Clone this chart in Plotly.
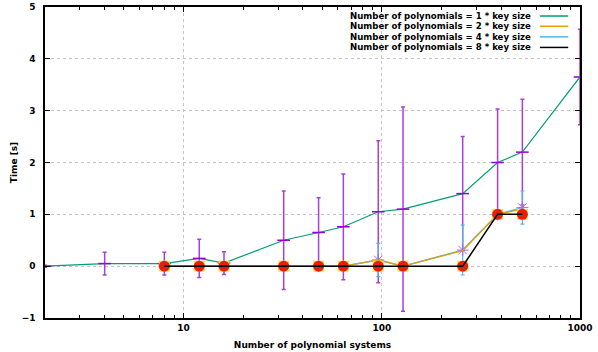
import plotly.graph_objects as go

# Number of polynomial systems (x) for each configuration
x_k1 = [2, 4, 8, 12, 16, 32, 48, 64, 96, 128, 256, 384, 512, 1000]
t_k1 = [0.0, 0.05, 0.05, 0.15, 0.06, 0.5, 0.65, 0.76, 1.05, 1.1, 1.4, 2.0, 2.2, 3.65]
e_k1 = [0.02, 0.22, 0.22, 0.37, 0.22, 0.95, 0.67, 1.02, 1.37, 1.97, 1.1, 1.03, 1.02, 0.92]

x_k2 = [8, 12, 16, 32, 48, 64, 96, 128, 256, 384, 512]
t_k2 = [0, 0, 0, 0, 0, 0, 0.12, 0, 0.3, 1.0, 1.1]

x_k4 = [8, 12, 16, 32, 48, 64, 96, 128, 256, 384, 512]
t_k4 = [0, 0, 0, 0, 0, 0, 0.12, 0, 0.31, 1.0, 1.13]
e_k4 = [0, 0, 0, 0, 0, 0, 0.32, 0, 0.48, 0, 0.32]

x_k8 = [8, 12, 16, 32, 48, 64, 96, 128, 256, 384, 512]
t_k8 = [0, 0, 0, 0, 0, 0, 0, 0, 0, 1.0, 1.0]

legend_labels = [
    "Number of polynomials = 1 * key size",
    "Number of polynomials = 2 * key size",
    "Number of polynomials = 4 * key size",
    "Number of polynomials = 8 * key size",
]

GREEN = "#009e73"
ORANGE = "#e69f00"
BLUE = "#56b4e9"
BLACK = "#000000"
PURPLE = "#9400d3"
RED = "#e51e10"
YELLOW = "#f0e442"
FONT = "DejaVu Sans"

fig = go.Figure()

# 1 * key size: line plus spread bars
fig.add_trace(go.Scatter(x=x_k1, y=t_k1, mode="lines",
                         line=dict(color=GREEN, width=1.2), showlegend=False))
fig.add_trace(go.Scatter(
    x=x_k1, y=t_k1, mode="markers",
    marker=dict(symbol="line-ew", size=9, line=dict(color=PURPLE, width=1.5)),
    error_y=dict(type="data", array=e_k1, color="#a640dd", thickness=1.5, width=2),
    showlegend=False))

# 4 * key size
fig.add_trace(go.Scatter(x=x_k4, y=t_k4, mode="lines",
                         line=dict(color=BLUE, width=1.5), showlegend=False))
fig.add_trace(go.Scatter(
    x=x_k4, y=t_k4, mode="markers",
    marker=dict(symbol="asterisk-open", size=10, line=dict(color=BLUE, width=1)),
    error_y=dict(type="data", array=e_k4, color=BLUE, thickness=1.2, width=2),
    showlegend=False))

# 2 * key size
fig.add_trace(go.Scatter(x=x_k2, y=t_k2, mode="lines",
                         line=dict(color=ORANGE, width=1.2), showlegend=False))

# 8 * key size
fig.add_trace(go.Scatter(x=x_k8, y=t_k8, mode="markers",
                         marker=dict(symbol="square", size=11, color=YELLOW, line=dict(width=0)),
                         showlegend=False))
fig.add_trace(go.Scatter(x=x_k8, y=t_k8, mode="markers",
                         marker=dict(symbol="circle", size=11, color=RED, line=dict(width=0)),
                         showlegend=False))
fig.add_trace(go.Scatter(x=x_k8, y=t_k8, mode="lines",
                         line=dict(color=BLACK, width=1.5), showlegend=False))

# Key: right-aligned text with the line sample to its right
key_colors = [GREEN, ORANGE, BLUE, BLACK]
key_y = [0.971, 0.938, 0.904, 0.870]
for label, col, ky in zip(legend_labels, key_colors, key_y):
    fig.add_annotation(xref="paper", yref="paper", x=0.913, y=ky, text=label,
                       showarrow=False, xanchor="right", yanchor="middle",
                       font=dict(family=FONT, size=8.6, color="black", weight="bold"))
    fig.add_shape(type="line", xref="paper", yref="paper", x0=0.925, x1=0.978,
                  y0=ky, y1=ky, line=dict(color=col, width=1.5))

axis_common = dict(
    showline=True, linecolor="black", linewidth=1.5, mirror="ticks",
    ticks="inside", tickcolor="black", ticklen=5, tickwidth=1,
    showgrid=True, gridcolor="#c4c4c4", griddash="dot", gridwidth=1,
    zeroline=False, automargin=False,
    tickfont=dict(family=FONT, size=9, color="black", weight="bold"),
)

fig.update_xaxes(
    type="log", range=[0.30103, 3.0],
    tickvals=[10, 100, 1000], ticktext=["10", "100", "1000"],
    minor=dict(ticks="inside", ticklen=3, tickcolor="black", dtick="D1", showgrid=False),
    title=dict(text="Number of polynomial systems", standoff=10,
               font=dict(family=FONT, size=9, color="black", weight="bold")),
    **axis_common)
fig.update_yaxes(
    range=[-1, 5], tickvals=[-1, 0, 1, 2, 3, 4, 5], ticklabelstandoff=6,
    title=dict(text="Time [s]", standoff=2,
               font=dict(family=FONT, size=9, color="black", weight="bold")),
    **axis_common)

fig.update_layout(
    width=598, height=352,
    margin=dict(l=45, r=18, t=7, b=34),
    plot_bgcolor="white", paper_bgcolor="white",
    showlegend=False,
)

fig.write_html("out.html")
